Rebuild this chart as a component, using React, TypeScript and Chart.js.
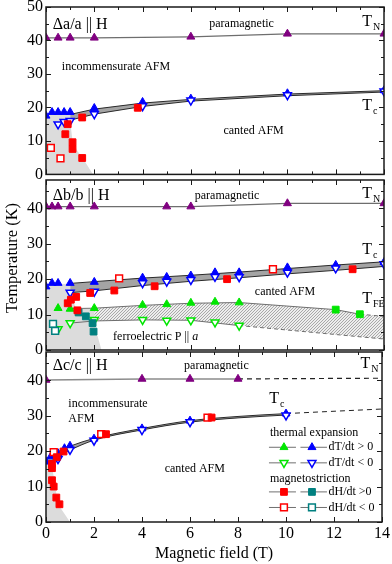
import React, { useEffect, useRef } from 'react';
import { Chart, registerables } from 'chart.js';

Chart.register(...registerables);

type P = [number, number];

const FAMILY = "'Liberation Serif', 'Times New Roman', serif";
const X_LABEL = 'Magnetic field (T)';
const Y_LABEL = 'Temperature (K)';
const X_TICKS = [0, 2, 4, 6, 8, 10, 12, 14];
const Y_TICKS_A = [0, 10, 20, 30, 40, 50];
const Y_TICKS_BC = [0, 10, 20, 30, 40];

const PURPLE = '#800080';
const BLUE = '#0000ff';
const RED = '#ff0000';
const GREEN = '#00e600';
const TEAL = '#008080';
const LINE_GREY = '#6e6e6e';
const DARK = '#2a2a2a';
const BAND = '#a4a4a4';
const REGION_GREY = '#dcdcdc';

// ---------- Panel A : Δa/a || H ----------
const A_TN: P[] = [[0, 40.8], [0.5, 40.8], [1, 40.8], [2, 40.8], [6, 41.1], [10, 42.0], [14, 42.0]];
const A_UP: P[] = [[0, 17.5], [0.25, 18.6], [0.5, 18.6], [0.75, 18.6], [1, 18.6], [2, 19.8], [4, 21.6], [6, 22.6], [10, 24.2], [14, 25.1]];
const A_DOWN: P[] = [[0.5, 15.0], [0.75, 15.7], [1, 16.0], [2, 18.0], [4, 20.4], [6, 22.1], [10, 23.7], [14, 24.8]];
const A_MS_UP: P[] = [[0.9, 15.0], [0.8, 12.0], [1.1, 9.6], [1.1, 7.6], [1.5, 4.9], [1.5, 17.0], [3.8, 19.9]];
const A_MS_DOWN: P[] = [[0.2, 7.9], [0.6, 4.8]];
const A_TC_HI: P[] = [[1, 17.9], [2, 19.5], [4, 21.3], [6, 22.4], [10, 24.0], [14, 25.0]];
const A_TC_LO: P[] = [[1, 16.2], [2, 18.0], [4, 20.3], [6, 21.9], [10, 23.5], [14, 24.6]];
const A_REGION: P[] = [[0, 17.5], [0.25, 18.3], [1, 18.3], [1, 16], [1.1, 10], [1.3, 7], [1.55, 4.5], [1.95, 0]];

// ---------- Panel B : Δb/b || H ----------
const B_TN: P[] = [[0, 40.5], [0.25, 40.5], [0.5, 40.5], [1, 40.5], [2, 40.5], [5, 40.5], [6, 40.5], [10, 41.4], [14, 41.4]];
const B_UP: P[] = [[0, 17.9], [0.25, 18.9], [0.5, 18.9], [1, 18.9], [2, 19.2], [4, 20.4], [5, 20.6], [6, 21.0], [7, 21.9], [8, 21.9], [10, 23.3], [12, 24.0], [14, 24.8]];
const B_DOWN: P[] = [[1, 16.2], [2, 16.5], [4, 18.9], [5, 19.3], [6, 19.8], [7, 20.7], [8, 20.6], [10, 21.9], [12, 23.1], [14, 24.3]];
const B_MS_UP: P[] = [[0.9, 13.2], [1.03, 14.2], [1.25, 15.0], [1.3, 11.2], [1.83, 16.1], [2.83, 16.8], [4.5, 18.0], [7.5, 20.0], [12.7, 22.8]];
const B_MS_DOWN: P[] = [[3.03, 20.2], [9.4, 22.8]];
const B_MS2_UP: P[] = [[1.35, 10.6], [1.65, 9.5], [1.93, 7.6], [1.97, 5.2]];
const B_MS2_DOWN: P[] = [[0.29, 7.4], [0.38, 5.4]];
const B_FE_UP: P[] = [[0.5, 11.8], [1, 11.6], [2, 11.8], [4, 12.7], [5, 12.9], [6, 13.3], [7, 13.6], [8, 13.4]];
const B_FE_SQ: P[] = [[12, 11.4], [13, 10.1]];
const B_FE_DOWN: P[] = [[0.5, 5.9], [1, 7.6], [2, 8.5], [4, 8.5], [5, 8.3], [6, 8.4], [7, 7.8], [8, 6.9]];
const B_TC_HI: P[] = [[1, 18.8], [2, 19.3], [4, 20.3], [6, 21.1], [8, 22.0], [10, 23.0], [12, 24.0], [14, 24.9]];
const B_TC_LO: P[] = [[1, 16.2], [2, 16.7], [4, 18.2], [6, 19.4], [8, 20.4], [10, 21.5], [12, 22.5], [14, 23.6]];
const B_FE_HI: P[] = [[1, 11.7], [2, 11.8], [4, 12.6], [6, 13.2], [8, 13.4], [12, 11.4], [13, 10.1], [14, 9.5]];
const B_FE_LO: P[] = [[1, 7.6], [2, 8.2], [4, 8.5], [6, 8.4], [8, 6.9], [14, 3.1]];
const B_REGION: P[] = [[0, 17.8], [0.3, 18.6], [1, 18.7], [1, 16.2], [1.2, 12.5], [1.25, 11.7], [2, 11.8], [2.05, 6], [2.3, 0]];

// ---------- Panel C : Δc/c || H ----------
const C_TN: P[] = [[0, 40.1], [4, 40.4], [6, 40.4], [8, 40.4]];
const C_TN_EXT: P[] = [[8, 40.4], [14, 40.6]];
const C_UP: P[] = [[0, 17.0], [0.2, 18.5], [0.5, 19.4], [0.77, 20.8], [1, 21.5], [2, 23.5], [4, 26.4], [6, 28.6], [10, 30.6]];
const C_DOWN: P[] = [[0.5, 17.8], [1, 20.4], [2, 23.0], [4, 26.0], [6, 28.2], [10, 30.1]];
const C_MS_UP: P[] = [[0.25, 16.4], [0.25, 15.2], [0.45, 18.3], [0.25, 11.8], [0.32, 10.0], [0.43, 6.9], [0.56, 5.0], [0.73, 19.9], [2.5, 24.8], [6.9, 29.5]];
const C_MS_DOWN: P[] = [[0.32, 19.7], [2.3, 24.8], [6.73, 29.5]];
const C_TC_HI: P[] = [[0, 17.3], [0.25, 18.8], [0.5, 19.8], [0.75, 20.7], [1, 21.4], [2, 23.6], [4, 26.4], [6, 28.6], [8, 29.8], [10, 30.6], [14, 31.9]];
const C_TC_LO: P[] = [[0, 17.0], [0.25, 17.4], [0.5, 18.2], [0.75, 19.4], [1, 20.3], [2, 23.1], [4, 26.0], [6, 28.2], [8, 29.4], [10, 30.2]];
const C_REGION: P[] = [[0, 17], [0.2, 17], [0.35, 12], [0.45, 7], [0.6, 4], [1.0, 0]];

// ---------- annotations ----------
type TextItem = { t: string; x: number; y: number; size: number; align?: 'left' | 'center'; sub?: string; italic?: string };

const A_TEXT: TextItem[] = [
  { t: 'Δa/a || H', x: 0.28, y: 44.6, size: 16 },
  { t: 'paramagnetic', x: 8.1, y: 44.9, size: 12, align: 'center' },
  { t: 'T', sub: 'N', x: 13.1, y: 45.6, size: 16 },
  { t: 'incommensurate AFM', x: 2.9, y: 32.2, size: 12, align: 'center' },
  { t: 'T', sub: 'c', x: 13.1, y: 20.4, size: 16 },
  { t: 'canted AFM', x: 8.6, y: 13.0, size: 12, align: 'center' },
];
const B_TEXT: TextItem[] = [
  { t: 'Δb/b || H', x: 0.28, y: 43.5, size: 16 },
  { t: 'paramagnetic', x: 7.5, y: 43.5, size: 12, align: 'center' },
  { t: 'T', sub: 'N', x: 13.1, y: 44.2, size: 16 },
  { t: 'T', sub: 'c', x: 13.1, y: 28.3, size: 16 },
  { t: 'canted AFM', x: 9.9, y: 16.5, size: 12, align: 'center' },
  { t: 'T', sub: 'FE', x: 13.1, y: 14.4, size: 16 },
  { t: 'ferroelectric P || ', italic: 'a', x: 2.78, y: 3.8, size: 12 },
];
const C_TEXT: TextItem[] = [
  { t: 'Δc/c || H', x: 0.28, y: 44.0, size: 16 },
  { t: 'paramagnetic', x: 7.1, y: 44.2, size: 12, align: 'center' },
  { t: 'T', sub: 'N', x: 13.1, y: 44.8, size: 16 },
  { t: 'incommensurate', x: 0.93, y: 33.4, size: 12 },
  { t: 'AFM', x: 0.93, y: 29.1, size: 12 },
  { t: 'T', sub: 'c', x: 9.3, y: 34.8, size: 16 },
  { t: 'canted AFM', x: 6.2, y: 14.9, size: 12, align: 'center' },
];

type Mk = { c: string; s: 'triangle' | 'rect'; f: boolean; d: boolean };
const LEGEND_HEADS = [
  { t: 'thermal expansion', y: 25.1 },
  { t: 'magnetostriction', y: 12.3 },
];
const LEGEND_ROWS: { y: number; label: string; a: Mk; b: Mk }[] = [
  { y: 21.1, label: 'dT/dt > 0', a: { c: GREEN, s: 'triangle', f: true, d: false }, b: { c: BLUE, s: 'triangle', f: true, d: false } },
  { y: 16.7, label: 'dT/dt < 0', a: { c: GREEN, s: 'triangle', f: false, d: true }, b: { c: BLUE, s: 'triangle', f: false, d: true } },
  { y: 8.5, label: 'dH/dt >0', a: { c: RED, s: 'rect', f: true, d: false }, b: { c: TEAL, s: 'rect', f: true, d: false } },
  { y: 4.1, label: 'dH/dt < 0', a: { c: RED, s: 'rect', f: false, d: false }, b: { c: TEAL, s: 'rect', f: false, d: false } },
];
const LEGEND_X = 9.29;

// ---------- helpers ----------
const TRI_R = 4.6;
const SQ_R = 4.8;
const pts = (a: P[]) => a.map(([x, y]) => ({ x, y }));

function marker(data: P[], color: string, style: 'triangle' | 'rect', filled: boolean, down = false) {
  const r = style === 'triangle' ? TRI_R : SQ_R;
  return {
    data: pts(data),
    showLine: false,
    pointStyle: style,
    pointRotation: down ? 180 : 0,
    pointRadius: r,
    pointHoverRadius: r,
    pointBackgroundColor: filled ? color : '#ffffff',
    pointBorderColor: color,
    pointBorderWidth: filled ? 1 : 1.5,
    order: 0,
  };
}
function line(data: P[], color: string, width: number, extra: any = {}) {
  return {
    data: pts(data),
    showLine: true,
    pointRadius: 0,
    pointHoverRadius: 0,
    borderColor: color,
    borderWidth: width,
    fill: false,
    order: 5,
    ...extra,
  };
}
function region(data: P[], color: string) {
  return {
    data: pts(data),
    showLine: true,
    pointRadius: 0,
    borderWidth: 0,
    borderColor: 'rgba(0,0,0,0)',
    backgroundColor: color,
    fill: 'origin',
    order: 20,
  };
}
function dashAfter(x0: number, dash: number[], color?: string) {
  return {
    borderDash: (ctx: any) => (ctx.p0.parsed.x >= x0 - 1e-9 ? dash : undefined),
    borderColor: (ctx: any) => (color && ctx.p0.parsed.x >= x0 - 1e-9 ? color : undefined),
  };
}

function drawMarker(ctx: CanvasRenderingContext2D, x: number, y: number, m: Mk) {
  ctx.beginPath();
  if (m.s === 'triangle') {
    let rad = m.d ? Math.PI : 0;
    for (let k = 0; k < 3; k++) {
      const px = x + Math.sin(rad) * TRI_R;
      const py = y - Math.cos(rad) * TRI_R;
      if (k === 0) ctx.moveTo(px, py);
      else ctx.lineTo(px, py);
      rad += (2 * Math.PI) / 3;
    }
    ctx.closePath();
  } else {
    const s = SQ_R * Math.SQRT1_2;
    ctx.rect(x - s, y - s, 2 * s, 2 * s);
  }
  ctx.fillStyle = m.f ? m.c : '#ffffff';
  ctx.fill();
  ctx.strokeStyle = m.c;
  ctx.lineWidth = m.f ? 1 : 1.5;
  ctx.stroke();
}

function drawText(ctx: CanvasRenderingContext2D, it: TextItem, xs: any, ys: any) {
  const x = xs.getPixelForValue(it.x);
  const y = ys.getPixelForValue(it.y);
  ctx.fillStyle = '#000';
  ctx.textBaseline = 'middle';
  ctx.textAlign = 'left';
  ctx.font = `${it.size}px ${FAMILY}`;
  const w = ctx.measureText(it.t).width;
  let total = w;
  const subSize = Math.round(it.size * 0.62);
  let subW = 0;
  if (it.sub) {
    ctx.font = `${subSize}px ${FAMILY}`;
    subW = ctx.measureText(it.sub).width;
    total += subW + 1;
  }
  let itW = 0;
  if (it.italic) {
    ctx.font = `italic ${it.size}px ${FAMILY}`;
    itW = ctx.measureText(it.italic).width;
    total += itW;
  }
  const start = it.align === 'center' ? x - total / 2 : x;
  ctx.font = `${it.size}px ${FAMILY}`;
  ctx.fillText(it.t, start, y);
  if (it.sub) {
    ctx.font = `${subSize}px ${FAMILY}`;
    ctx.fillText(it.sub, start + w + 1, y + it.size * 0.36);
  }
  if (it.italic) {
    ctx.font = `italic ${it.size}px ${FAMILY}`;
    ctx.fillText(it.italic, start + w, y);
  }
}

function decorPlugin(texts: TextItem[], extra?: (chart: any) => void) {
  return {
    id: 'decor',
    afterDraw(chart: any) {
      const { ctx, chartArea: a, scales } = chart;
      const xs = scales.x;
      const ys = scales.y;
      ctx.save();
      ctx.strokeStyle = '#1a1a1a';
      ctx.lineWidth = 1;
      ctx.beginPath();
      for (let v = 0; v <= 14; v++) {
        const px = Math.round(xs.getPixelForValue(v)) + 0.5;
        const len = v % 2 === 0 ? 5 : 3;
        ctx.moveTo(px, a.bottom);
        ctx.lineTo(px, a.bottom - len);
        ctx.moveTo(px, a.top);
        ctx.lineTo(px, a.top + len);
      }
      for (let v = 0; v <= ys.max + 1e-9; v += 5) {
        const py = Math.round(ys.getPixelForValue(v)) + 0.5;
        const len = v % 10 === 0 ? 5 : 3;
        ctx.moveTo(a.left, py);
        ctx.lineTo(a.left + len, py);
        ctx.moveTo(a.right, py);
        ctx.lineTo(a.right - len, py);
      }
      ctx.stroke();
      ctx.lineWidth = 1.5;
      ctx.strokeRect(a.left, a.top, a.right - a.left, a.bottom - a.top);
      texts.forEach((t) => drawText(ctx, t, xs, ys));
      if (extra) extra(chart);
      ctx.restore();
    },
  };
}

function legendDraw(chart: any) {
  const { ctx, scales } = chart;
  const xs = scales.x;
  const ys = scales.y;
  const x0 = xs.getPixelForValue(LEGEND_X);
  ctx.textBaseline = 'middle';
  ctx.textAlign = 'left';
  ctx.fillStyle = '#000';
  ctx.font = `12px ${FAMILY}`;
  LEGEND_HEADS.forEach((h) => ctx.fillText(h.t, x0 + 1, ys.getPixelForValue(h.y)));
  LEGEND_ROWS.forEach((r) => {
    const y = ys.getPixelForValue(r.y);
    ctx.strokeStyle = '#707070';
    ctx.lineWidth = 1;
    ctx.beginPath();
    ctx.moveTo(x0, y);
    ctx.lineTo(x0 + 27, y);
    ctx.moveTo(x0 + 31.5, y);
    ctx.lineTo(x0 + 58, y);
    ctx.stroke();
    drawMarker(ctx, x0 + 15, y, r.a);
    drawMarker(ctx, x0 + 43, y, r.b);
    ctx.fillStyle = '#000';
    ctx.font = `12px ${FAMILY}`;
    ctx.fillText(r.label, x0 + 59.5, y);
  });
}

function yTitleDraw(pageX: number, pageY: number, canvasTop: number) {
  return (chart: any) => {
    const { ctx } = chart;
    ctx.save();
    ctx.translate(pageX, pageY - canvasTop);
    ctx.rotate(-Math.PI / 2);
    ctx.textAlign = 'center';
    ctx.textBaseline = 'middle';
    ctx.fillStyle = '#000';
    ctx.font = `16.5px ${FAMILY}`;
    ctx.fillText(Y_LABEL, 0, 0);
    ctx.restore();
  };
}

function makeHatch() {
  const c = document.createElement('canvas');
  c.width = 3;
  c.height = 3;
  const g = c.getContext('2d')!;
  g.fillStyle = '#ededed';
  g.fillRect(0, 0, 3, 3);
  g.fillStyle = '#a8a8a8';
  g.fillRect(0, 2, 1, 1);
  g.fillRect(1, 1, 1, 1);
  g.fillRect(2, 0, 1, 1);
  return g.createPattern(c, 'repeat');
}

function makeOptions(yMax: number, yTicks: number[], showX: boolean, padding: any) {
  return {
    responsive: false,
    animation: false,
    events: [],
    layout: { padding },
    plugins: { legend: { display: false }, tooltip: { enabled: false } },
    scales: {
      x: {
        type: 'linear',
        min: 0,
        max: 14,
        display: showX,
        grid: { display: false, drawTicks: false },
        border: { display: false },
        afterBuildTicks: (s: any) => {
          s.ticks = X_TICKS.map((v) => ({ value: v }));
        },
        ticks: { font: { family: FAMILY, size: 16 }, color: '#000', padding: 2, maxRotation: 0, autoSkip: false },
        title: { display: showX, text: X_LABEL, font: { family: FAMILY, size: 16 }, color: '#000', padding: { top: 0, bottom: 1 } },
        afterFit: (s: any) => {
          if (showX) s.height = 42;
        },
      },
      y: {
        type: 'linear',
        min: 0,
        max: yMax,
        grid: { display: false, drawTicks: false },
        border: { display: false },
        afterBuildTicks: (s: any) => {
          s.ticks = yTicks.map((v) => ({ value: v }));
        },
        ticks: { font: { family: FAMILY, size: 16 }, color: '#000', padding: 3 },
        afterFit: (s: any) => {
          s.width = 46;
        },
      },
    },
  };
}

function configA(): any {
  const ds: any[] = [];
  ds.push(marker(A_MS_UP, RED, 'rect', true));
  ds.push(marker(A_MS_DOWN, RED, 'rect', false));
  ds.push(marker(A_DOWN, BLUE, 'triangle', false, true));
  ds.push(marker(A_UP, BLUE, 'triangle', true));
  ds.push(marker(A_TN, PURPLE, 'triangle', true));
  ds.push(line(A_TN, LINE_GREY, 1.2));
  const hi = ds.push(line(A_TC_HI, DARK, 1)) - 1;
  ds.push(line(A_TC_LO, DARK, 1, { fill: { target: hi }, backgroundColor: BAND }));
  ds.push(region(A_REGION, REGION_GREY));
  return {
    type: 'scatter',
    data: { datasets: ds },
    options: makeOptions(50, Y_TICKS_A, false, { top: 20, bottom: 11, left: 0, right: 8 }),
    plugins: [decorPlugin(A_TEXT)],
  };
}

function configB(hatch: any): any {
  const ds: any[] = [];
  ds.push(marker(B_MS_UP, RED, 'rect', true));
  ds.push(marker(B_MS_DOWN, RED, 'rect', false));
  ds.push(marker(B_MS2_UP, TEAL, 'rect', true));
  ds.push(marker(B_MS2_DOWN, TEAL, 'rect', false));
  ds.push(marker(B_DOWN, BLUE, 'triangle', false, true));
  ds.push(marker(B_UP, BLUE, 'triangle', true));
  ds.push(marker(B_FE_DOWN, GREEN, 'triangle', false, true));
  ds.push(marker(B_FE_UP, GREEN, 'triangle', true));
  ds.push(marker(B_FE_SQ, GREEN, 'rect', true));
  ds.push(marker(B_TN, PURPLE, 'triangle', true));
  ds.push(line(B_TN, LINE_GREY, 1.2));
  const hi = ds.push(line(B_TC_HI, DARK, 1)) - 1;
  ds.push(line(B_TC_LO, DARK, 1, { fill: { target: hi }, backgroundColor: BAND }));
  ds.push(line(B_FE_HI, LINE_GREY, 1, { segment: dashAfter(13, [4, 3]) }));
  ds.push(line(B_FE_LO, LINE_GREY, 1, { segment: dashAfter(8, [4, 3]) }));
  const hhi = ds.push(line(B_FE_HI.filter((p) => p[0] >= 2), 'rgba(0,0,0,0)', 0, { order: 15 })) - 1;
  ds.push(line(B_FE_LO.filter((p) => p[0] >= 2), 'rgba(0,0,0,0)', 0, { order: 15, fill: { target: hhi }, backgroundColor: hatch }));
  ds.push(region(B_REGION, REGION_GREY));
  return {
    type: 'scatter',
    data: { datasets: ds },
    options: makeOptions(48, Y_TICKS_BC, false, { top: 20, bottom: 20, left: 0, right: 8 }),
    plugins: [decorPlugin(B_TEXT, yTitleDraw(13, 258, 160))],
  };
}

function configC(): any {
  const ds: any[] = [];
  ds.push(marker(C_MS_UP, RED, 'rect', true));
  ds.push(marker(C_MS_DOWN, RED, 'rect', false));
  ds.push(marker(C_DOWN, BLUE, 'triangle', false, true));
  ds.push(marker(C_UP, BLUE, 'triangle', true));
  ds.push(marker(C_TN, PURPLE, 'triangle', true));
  ds.push(line(C_TN, '#8c8c8c', 1.5));
  ds.push(line(C_TN_EXT, '#222222', 1.2, { borderDash: [5, 4] }));
  const hi = ds.push(line(C_TC_HI, DARK, 1, { cubicInterpolationMode: 'monotone', segment: dashAfter(10, [5, 4], '#222222') })) - 1;
  ds.push(line(C_TC_LO, DARK, 1, { cubicInterpolationMode: 'monotone', fill: { target: hi }, backgroundColor: BAND }));
  ds.push(region(C_REGION, REGION_GREY));
  return {
    type: 'scatter',
    data: { datasets: ds },
    options: makeOptions(48, Y_TICKS_BC, true, { top: 20, bottom: 0, left: 0, right: 8 }),
    plugins: [decorPlugin(C_TEXT, legendDraw)],
  };
}

export default function App() {
  const r1 = useRef<HTMLCanvasElement>(null);
  const r2 = useRef<HTMLCanvasElement>(null);
  const r3 = useRef<HTMLCanvasElement>(null);

  useEffect(() => {
    const hatch = makeHatch();
    const charts = [
      new Chart(r1.current as HTMLCanvasElement, configA()),
      new Chart(r2.current as HTMLCanvasElement, configB(hatch)),
      new Chart(r3.current as HTMLCanvasElement, configC()),
    ];
    return () => charts.forEach((c) => c.destroy());
  }, []);

  return (
    <div style={{ position: 'absolute', left: 0, top: 0, width: 392, height: 564, background: '#fff', overflow: 'hidden' }}>
      <canvas ref={r1} width={392} height={200} style={{ position: 'absolute', left: 0, top: -13 }} />
      <canvas ref={r2} width={392} height={210} style={{ position: 'absolute', left: 0, top: 160 }} />
      <canvas ref={r3} width={392} height={232} style={{ position: 'absolute', left: 0, top: 332 }} />
    </div>
  );
}
